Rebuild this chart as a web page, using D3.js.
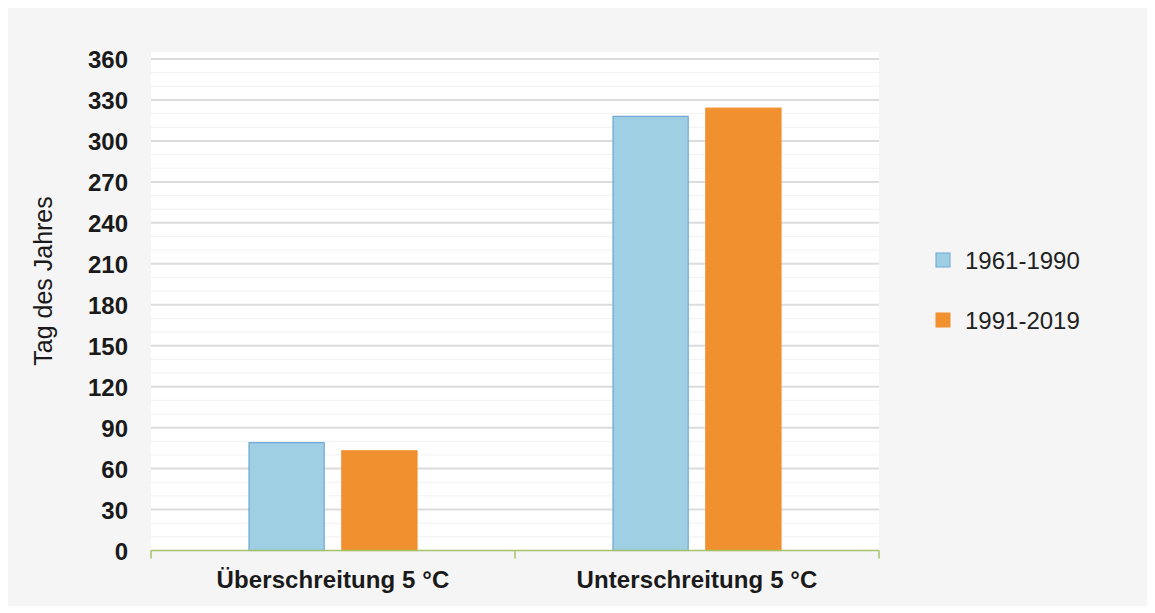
<!DOCTYPE html>
<html>
<head>
<meta charset="utf-8">
<script src="https://cdn.jsdelivr.net/npm/d3@7"></script>
<style>
  html, body { margin: 0; padding: 0; background: #ffffff; }
  svg { display: block; font-family: "Liberation Sans", Arial, sans-serif; }
</style>
</head>
<body>
<svg id="chart" width="1155" height="613"></svg>
<script>
// Days of the year: exceedance / undershoot of the 5 °C threshold
const categories = ["Überschreitung 5 °C", "Unterschreitung 5 °C"];
const seriesNames = ["1961-1990", "1991-2019"];
const values1961 = [79, 318];
const values1991 = [73, 324];
const yTicks = [0, 30, 60, 90, 120, 150, 180, 210, 240, 270, 300, 330, 360];
const yTitle = "Tag des Jahres";

const colors = ["#9ecfe3", "#f0902f"];
const strokes = ["#6fa6d6", "#f0902f"];

const svg = d3.select("#chart");

// panel background
svg.append("rect").attr("x", 8).attr("y", 8).attr("width", 1139).attr("height", 598).attr("fill", "#f5f5f5");

const plot = { left: 151, right: 879, top: 52, bottom: 550 };

svg.append("rect")
  .attr("x", plot.left).attr("y", plot.top)
  .attr("width", plot.right - plot.left).attr("height", plot.bottom - plot.top)
  .attr("fill", "#ffffff");

const y = d3.scaleLinear().domain([0, 360]).range([550.5, 59]);
const x0 = d3.scaleBand().domain(categories).range([plot.left, plot.right]);
const groupWidth = 168;
const x1 = d3.scaleBand().domain(seriesNames).range([0, groupWidth]).paddingInner(0.19);

// minor gridlines every 10
const minor = d3.range(10, 361, 10).filter(v => v % 30 !== 0);
svg.append("g").selectAll("line").data(minor).join("line")
  .attr("x1", plot.left).attr("x2", plot.right)
  .attr("y1", d => y(d)).attr("y2", d => y(d))
  .attr("stroke", "#f1f1f1").attr("stroke-width", 1);

// major gridlines
svg.append("g").selectAll("line").data(yTicks.filter(v => v > 0)).join("line")
  .attr("x1", plot.left).attr("x2", plot.right)
  .attr("y1", d => y(d)).attr("y2", d => y(d))
  .attr("stroke", "#dcdcdc").attr("stroke-width", 2);

// y axis labels
const yAxis = d3.axisLeft(y).tickValues(yTicks).tickSize(0).tickPadding(0);
const gy = svg.append("g").attr("transform", "translate(128,0)").call(yAxis);
gy.select(".domain").remove();
gy.selectAll("text")
  .attr("dy", "0.36em")
  .attr("font-family", "'Liberation Sans', Arial, sans-serif")
  .attr("font-size", 24).attr("font-weight", "bold").attr("fill", "#1a1a1a");

// y axis title
svg.append("text")
  .attr("transform", "translate(43,281) rotate(-90)")
  .attr("text-anchor", "middle")
  .attr("dy", "0.35em")
  .attr("font-size", 25).attr("fill", "#1a1a1a")
  .text(yTitle);

// bars
const data = categories.map((c, i) => ({ cat: c, vals: [values1961[i], values1991[i]] }));
const groups = svg.append("g").selectAll("g").data(data).join("g")
  .attr("transform", d => `translate(${x0(d.cat) + (x0.bandwidth() - groupWidth) / 2},0)`);
groups.selectAll("rect").data(d => d.vals.map((v, k) => ({ name: seriesNames[k], v, k })))
  .join("rect")
  .attr("x", d => x1(d.name)).attr("width", x1.bandwidth())
  .attr("y", d => y(d.v)).attr("height", d => y(0) - y(d.v))
  .attr("fill", d => colors[d.k])
  .attr("stroke", d => strokes[d.k]).attr("stroke-width", 1.2);

// category axis
const xAxis = d3.axisBottom(x0).tickSize(0).tickPadding(0);
const gx = svg.append("g").attr("transform", `translate(0,${y(0)})`).call(xAxis);
gx.select(".domain").remove();
gx.selectAll("text")
  .attr("y", 37).attr("dy", 0)
  .attr("font-family", "'Liberation Sans', Arial, sans-serif")
  .attr("font-size", 24).attr("font-weight", "bold").attr("fill", "#1a1a1a")
  .attr("letter-spacing", 0.1);

svg.append("line")
  .attr("x1", plot.left).attr("x2", plot.right)
  .attr("y1", y(0)).attr("y2", y(0))
  .attr("stroke", "#a4c26a").attr("stroke-width", 1.5);
const boundaries = [plot.left, x0(categories[1]), plot.right];
svg.append("g").selectAll("line").data(boundaries).join("line")
  .attr("x1", d => d).attr("x2", d => d)
  .attr("y1", y(0)).attr("y2", y(0) + 8)
  .attr("stroke", "#a4c26a").attr("stroke-width", 1.5);

// legend
const legend = svg.append("g").selectAll("g").data(seriesNames).join("g")
  .attr("transform", (d, i) => `translate(936,${253 + i * 60})`);
legend.append("rect")
  .attr("width", 14).attr("height", 14)
  .attr("fill", (d, i) => colors[i]).attr("stroke", (d, i) => strokes[i]);
legend.append("text")
  .attr("x", 29).attr("y", 16)
  .attr("font-size", 24).attr("fill", "#222")
  .text(d => d);
</script>
</body>
</html>
